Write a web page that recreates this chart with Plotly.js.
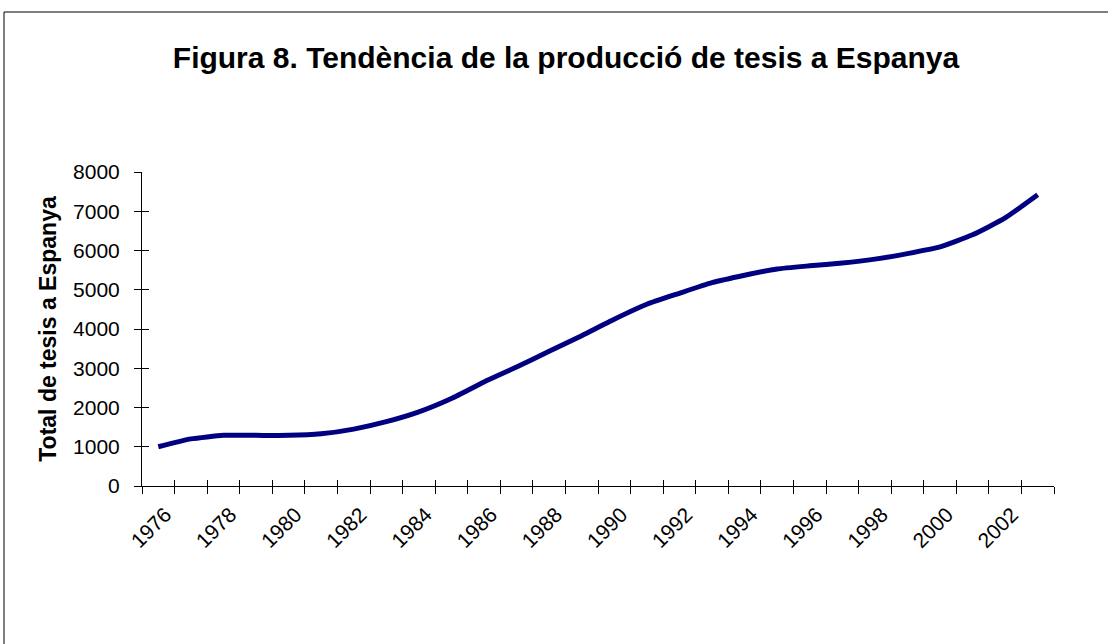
<!DOCTYPE html>
<html>
<head>
<meta charset="utf-8">
<script src="https://cdn.plot.ly/plotly-3.0.1.min.js"></script>
<style>
html,body{margin:0;padding:0;background:#fff;}
#chart{width:1108px;height:644px;}
</style>
</head>
<body>
<div id="chart"></div>
<script>
const years = ['1976','1977','1978','1979','1980','1981','1982','1983','1984','1985','1986','1987','1988','1989','1990','1991','1992','1993','1994','1995','1996','1997','1998','1999','2000','2001','2002','2003'];
const totals = [1000,1200,1290,1290,1290,1330,1450,1640,1890,2230,2650,3030,3430,3830,4250,4630,4910,5180,5370,5530,5610,5680,5780,5920,6090,6400,6830,7420];
const yTicks = [0,1000,2000,3000,4000,5000,6000,7000,8000];
const chartTitle = 'Figura 8. Tendència de la producció de tesis a Espanya';
const yTitle = 'Total de tesis a Espanya';

const idx = years.map((_, i) => i);
const labelIdx = idx.filter(i => i % 2 === 0);
const labelText = labelIdx.map(i => years[i]);
const bounds = idx.map(i => i - 0.5).concat([years.length - 0.5]);
const xRange = [-0.5, years.length - 0.5];
const yRange = [0, 8000];

const ml = 142, mr = 54, mt = 172, mb = 158, W = 1108, H = 644;
const pw = W - ml - mr, ph = H - mt - mb;

const traces = [
  {x: idx, y: totals, mode: 'lines', line: {color: '#000080', width: 5, shape: 'spline', smoothing: 0.5}, xaxis: 'x', yaxis: 'y', hoverinfo: 'x+y'},
  {x: [], y: [], xaxis: 'x2', yaxis: 'y', showlegend: false, hoverinfo: 'skip'},
  {x: [], y: [], xaxis: 'x3', yaxis: 'y', showlegend: false, hoverinfo: 'skip'},
  {x: [], y: [], xaxis: 'x', yaxis: 'y2', showlegend: false, hoverinfo: 'skip'}
];

const font = {family: 'Liberation Sans, Arial, sans-serif', color: '#000', size: 21};

const layout = {
  width: W, height: H,
  margin: {l: ml, r: mr, t: mt, b: mb, pad: 0},
  showlegend: false,
  paper_bgcolor: '#fff', plot_bgcolor: '#fff',
  font: font,
  title: {
    text: '<b>' + chartTitle + '</b>',
    font: {family: font.family, size: 30, color: '#000'},
    xref: 'container', x: 566 / W, xanchor: 'center',
    yref: 'container', y: 1 - 57 / H, yanchor: 'middle'
  },
  xaxis: {
    range: xRange, tickmode: 'array', tickvals: labelIdx, ticktext: labelText,
    ticks: '', tickangle: -45, showline: true, linecolor: '#000', linewidth: 1,
    showgrid: false, zeroline: false, ticklabelstandoff: 7, ticklabelshift: 7,
    tickfont: {family: font.family, size: 21, color: '#000'}, fixedrange: true
  },
  xaxis2: {
    overlaying: 'x', anchor: 'y', range: xRange, tickmode: 'array', tickvals: bounds,
    ticks: 'outside', ticklen: 7, tickcolor: '#000', tickwidth: 1,
    showticklabels: false, showgrid: false, zeroline: false, showline: false, fixedrange: true
  },
  xaxis3: {
    overlaying: 'x', anchor: 'y', range: xRange, tickmode: 'array', tickvals: bounds,
    ticks: 'inside', ticklen: 6, tickcolor: '#000', tickwidth: 1,
    showticklabels: false, showgrid: false, zeroline: false, showline: false, fixedrange: true
  },
  yaxis: {
    range: yRange, tickmode: 'array', tickvals: yTicks,
    ticks: 'outside', ticklen: 7, tickcolor: '#000', tickwidth: 1,
    showline: true, linecolor: '#000', linewidth: 1, showgrid: false, zeroline: false,
    ticklabelstandoff: 10,
    tickfont: {family: font.family, size: 21, color: '#000'},
    title: {text: '<b>' + yTitle + '</b>', font: {family: font.family, size: 23, color: '#000'}, standoff: 10},
    fixedrange: true
  },
  yaxis2: {
    overlaying: 'y', anchor: 'x', range: yRange, tickmode: 'array', tickvals: yTicks,
    ticks: 'inside', ticklen: 7, tickcolor: '#000', tickwidth: 1,
    showticklabels: false, showgrid: false, zeroline: false, showline: false, fixedrange: true
  },
  shapes: [{
    type: 'rect', xref: 'paper', yref: 'paper',
    x0: (4 - ml) / pw, x1: (W + 20 - ml) / pw,
    y0: (H - mb - (H + 20)) / ph, y1: (H - mb - 12) / ph,
    line: {color: '#000', width: 1}, fillcolor: 'rgba(0,0,0,0)'
  }]
};

Plotly.newPlot('chart', traces, layout, {displayModeBar: false, staticPlot: true});
</script>
</body>
</html>
